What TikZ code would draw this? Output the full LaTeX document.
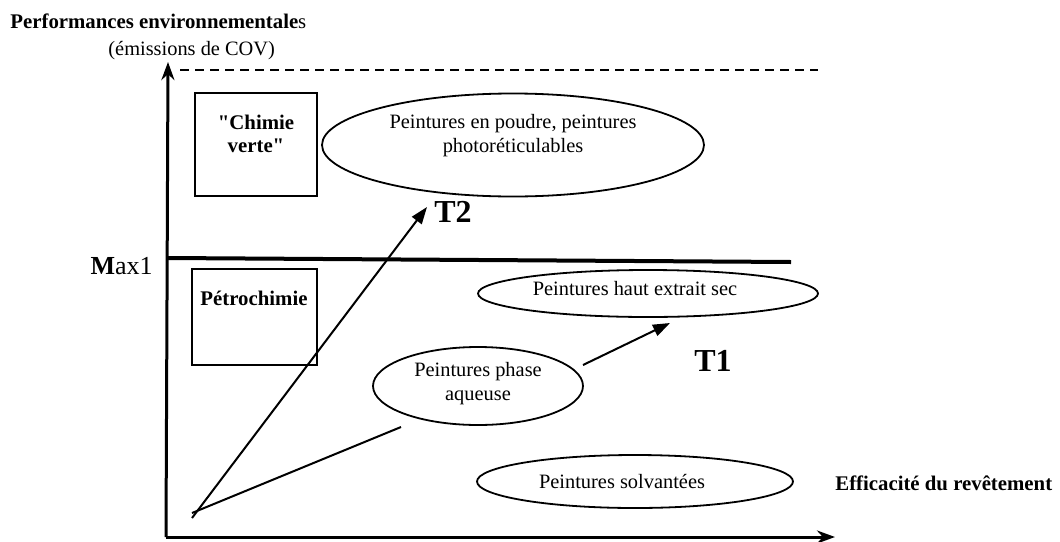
\documentclass[tikz,border=0pt]{standalone}
\usepackage{fontspec}
\setmainfont{Liberation Serif}[Ligatures=TeXOff]
\usetikzlibrary{shapes.geometric,arrows.meta}

\begin{document}
\begin{tikzpicture}[x=0.5pt,y=-0.5pt,
	texte/.style={font=\fontsize{10.2}{12}\selectfont,align=center,inner sep=0pt},
	gras/.style={font=\fontsize{10.4}{11.5}\selectfont\bfseries,align=center,inner sep=0pt},
	grand/.style={font=\fontsize{16}{18}\selectfont\bfseries,inner sep=0pt},
	bulle/.style={draw,ellipse,line width=0.9pt,inner sep=0pt},
	boite/.style={draw,rectangle,line width=0.9pt,inner sep=0pt},
	axe/.style={line width=1.5pt,-{Stealth[length=9pt,width=6.5pt]}},
	fleche/.style={line width=1pt,-{Triangle[length=8.5pt,width=6pt]}},
	trait/.style={line width=1pt}]
	\useasboundingbox (0,0) rectangle (1060,541);

	% axes
	\coordinate (orig) at (166,537);
	\coordinate (ymax) at (168,62);
	\coordinate (xmax) at (835,537);
	\draw[axe] (orig) -- (ymax);
	\draw[axe] (orig) -- (xmax);
	\node[gras,anchor=base west] (perf) at (10,28) {Performances environnementale{\mdseries s}};
	\node[texte,anchor=base west] (cov) at (108,55) {(émissions de COV)};
	\node[gras,anchor=base west] (eff) at (835,490) {Efficacité du revêtement};

	% limites
	\coordinate (lim1) at (180,70);
	\coordinate (lim2) at (818,70);
	\draw[line width=1pt,dash pattern=on 4.5pt off 3pt] (lim1) -- (lim2);
	\coordinate (maxg) at (168,258);
	\coordinate (maxd) at (791,262);
	\draw[line width=2pt] (maxg) -- (maxd);
	\node[inner sep=0pt,font=\fontsize{13}{15}\selectfont,anchor=east] (max) at (153,266) {\textbf{M}ax1};

	% boites
	\node[boite,minimum width=61pt,minimum height=51.5pt] (verte) at (256,144.5) {};
	\node[gras] (vertetxt) at (256,134) {"Chimie\\verte"};
	\node[boite,minimum width=62.5pt,minimum height=48pt] (petro) at (254.5,317) {};
	\node[gras] (petrotxt) at (254,298) {Pétrochimie};

	% peintures
	\node[bulle,minimum width=191pt,minimum height=51.5pt] (poudre) at (513,145) {};
	\node[texte] (poudretxt) at (513,135.5) {Peintures en poudre, peintures\\photoréticulables};
	\node[bulle,minimum width=170pt,minimum height=23.5pt] (hes) at (648,293.5) {};
	\node[texte] (hestxt) at (635,289) {Peintures haut extrait sec};
	\node[bulle,minimum width=105pt,minimum height=39pt] (aqueuse) at (478,386) {};
	\node[texte] (aqueusetxt) at (478,384) {Peintures phase\\aqueuse};
	\node[bulle,minimum width=158pt,minimum height=26.5pt] (solv) at (635,481.5) {};
	\node[texte] (solvtxt) at (622,481) {Peintures solvantées};

	% trajectoires
	\node[grand] (T2) at (453,212) {T2};
	\node[grand] (T1) at (713,361) {T1};
	\coordinate (dT2) at (192,518);
	\coordinate (aT2) at (427,207);
	\draw[fleche] (dT2) -- (aT2);
	\coordinate (dT1) at (192,513);
	\coordinate (fT1) at (401,427);
	\draw[trait] (dT1) -- (fT1);
	\coordinate (bT1) at (583,365);
	\coordinate (aT1) at (670,323);
	\draw[fleche] (bT1) -- (aT1);
\end{tikzpicture}
\end{document}
